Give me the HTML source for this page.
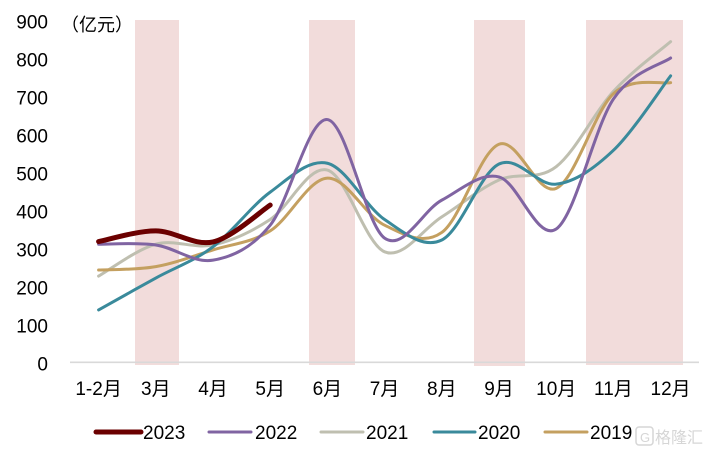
<!DOCTYPE html>
<html><head><meta charset="utf-8">
<style>
html,body{margin:0;padding:0;background:#fff;}
svg{display:block;}
text{font-family:"Liberation Sans","Noto Sans CJK SC",sans-serif;font-size:19px;fill:#000;}
</style></head>
<body>
<svg id="c" width="706" height="453" viewBox="0 0 706 453" xmlns="http://www.w3.org/2000/svg">
<rect width="706" height="453" fill="#fff"/>
<g fill="#f2dcdb">
<rect x="135" y="20" width="44" height="345"/>
<rect x="309" y="20" width="46" height="345"/>
<rect x="474" y="20" width="51" height="346"/>
<rect x="586" y="20" width="97" height="345"/>
</g>
<line x1="70" y1="362.3" x2="699" y2="362.3" stroke="#d9d9d9" stroke-width="1.6"/>
<g text-anchor="end">
<text x="48" y="28.5">900</text>
<text x="48" y="66.5">800</text>
<text x="48" y="104.5">700</text>
<text x="48" y="142.5">600</text>
<text x="48" y="180.5">500</text>
<text x="48" y="218.5">400</text>
<text x="48" y="256.5">300</text>
<text x="48" y="294.5">200</text>
<text x="48" y="332.5">100</text>
<text x="48" y="370.5">0</text>
</g>
<text x="61" y="31" style="font-size:18px">（亿元）</text>
<g text-anchor="middle">
<text x="98.6" y="395">1-2月</text>
<text x="155.8" y="395">3月</text>
<text x="213" y="395">4月</text>
<text x="270.2" y="395">5月</text>
<text x="327.4" y="395">6月</text>
<text x="384.6" y="395">7月</text>
<text x="441.8" y="395">8月</text>
<text x="499" y="395">9月</text>
<text x="556.2" y="395">10月</text>
<text x="613.4" y="395">11月</text>
<text x="670.6" y="395">12月</text>
</g>
<g id="series" fill="none" stroke-linecap="round" stroke-linejoin="round"></g>
<g stroke-linecap="round">
<line x1="96" y1="432" x2="141" y2="432" stroke="#6b0000" stroke-width="5"/>
<line x1="209" y1="432" x2="251" y2="432" stroke="#8064a2" stroke-width="3"/>
<line x1="321" y1="432" x2="363" y2="432" stroke="#bfbfb0" stroke-width="3"/>
<line x1="434" y1="432" x2="475" y2="432" stroke="#3a8a9b" stroke-width="3"/>
<line x1="545" y1="432" x2="587" y2="432" stroke="#c4a060" stroke-width="3"/>
</g>
<text x="143" y="439">2023</text>
<text x="255" y="439">2022</text>
<text x="366" y="439">2021</text>
<text x="478" y="439">2020</text>
<text x="590" y="439">2019</text>
<rect x="636" y="427" width="17" height="18" rx="3" fill="none" stroke="#d6d6d6" stroke-width="1.5"/>
<text x="640" y="442" style="font-size:13px;fill:#d6d6d6">G</text>
<text x="655" y="443" style="font-size:16px;fill:#d6d6d6">格隆汇</text>
</svg>
<script>
(function(){
  var xs=[];for(var i=0;i<11;i++)xs.push(70+57.2*(i+0.5));
  function Y(v){return 362-v*0.38;}
  var S=[
   {c:"#bfbfb0",w:3,d:[226,310,308,375,505,290,382,479,514,712,843]},
   {c:"#c4a060",w:3,d:[242,251,295,345,484,360,341,573,457,706,735]},
   {c:"#3a8a9b",w:3,d:[137,221,303,447,523,375,321,521,468,557,753]},
   {c:"#8064a2",w:3,d:[310,308,268,360,638,326,426,487,350,692,800]},
   {c:"#6b0000",w:5,d:[317,345,316,413]}
  ];
  var g=document.getElementById("series");
  S.forEach(function(s){
    var p=s.d.map(function(v,i){return [xs[i],Y(v)];});
    var d="M"+p[0][0].toFixed(2)+","+p[0][1].toFixed(2);
    for(var i=0;i<p.length-1;i++){
      var p0=p[i>0?i-1:i],p1=p[i],p2=p[i+1],p3=p[i+2<p.length?i+2:i+1];
      var c1=[p1[0]+(p2[0]-p0[0])/6,p1[1]+(p2[1]-p0[1])/6];
      var c2=[p2[0]-(p3[0]-p1[0])/6,p2[1]-(p3[1]-p1[1])/6];
      d+=" C"+c1[0].toFixed(2)+","+c1[1].toFixed(2)+" "+c2[0].toFixed(2)+","+c2[1].toFixed(2)+" "+p2[0].toFixed(2)+","+p2[1].toFixed(2);
    }
    var e=document.createElementNS("http://www.w3.org/2000/svg","path");
    e.setAttribute("d",d);e.setAttribute("stroke",s.c);e.setAttribute("stroke-width",s.w);
    g.appendChild(e);
  });
})();
</script>
</body></html>
